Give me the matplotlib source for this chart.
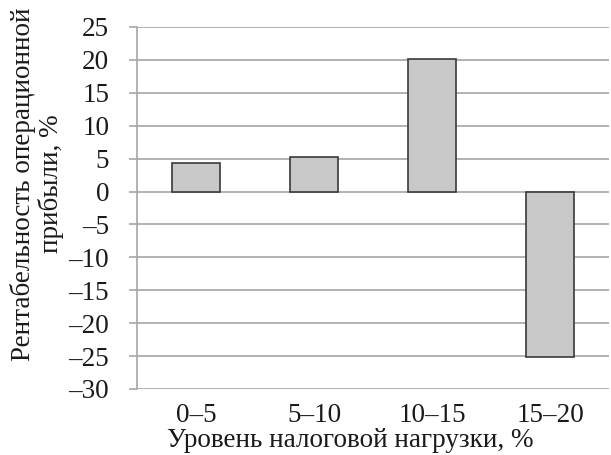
import matplotlib
matplotlib.use("Agg")
import matplotlib.pyplot as plt

categories = ["0–5", "5–10", "10–15", "15–20"]
values = [4.3, 5.2, 20.1, -25.2]
y_ticks = [25, 20, 15, 10, 5, 0, -5, -10, -15, -20, -25, -30]
y_tick_labels = [str(v).replace("-", "–") for v in y_ticks]
x_title = "Уровень налоговой нагрузки, %"
y_title = "Рентабельность операционной\nприбыли, %"

plt.rcParams["font.family"] = ["Liberation Serif", "DejaVu Serif"]

W, H = 611, 455
L, R, T, B = 137, 609, 27, 389
fig = plt.figure(figsize=(W / 100, H / 100), dpi=100)
ax = fig.add_axes([L / W, 1 - B / H, (R - L) / W, (B - T) / H])

grid_col = "#a6a6a6"
txt_col = "#1a1a1a"
fs = 19.5
ax.set_ylim(-30, 25)
ax.set_xlim(-0.5, len(categories) - 0.5)
ax.set_yticks(y_ticks)
ax.set_yticklabels(y_tick_labels)
ax.yaxis.grid(True, color=grid_col, linewidth=1.2)
ax.set_axisbelow(True)

ax.bar(range(len(categories)), values, width=0.4, color="#c8c8c8",
       edgecolor="#3a3a3a", linewidth=1.2, zorder=3)

ax.set_xticks(range(len(categories)))
ax.set_xticklabels(categories)

for s in ("top", "right", "bottom"):
    ax.spines[s].set_visible(False)
ax.spines["left"].set_color(grid_col)
ax.spines["left"].set_linewidth(1.2)

ax.tick_params(axis="y", length=6, width=1.2, color=grid_col, pad=14,
               labelsize=fs, labelcolor=txt_col)
ax.tick_params(axis="x", length=0, pad=10, labelsize=fs, labelcolor=txt_col)

ax.set_xlabel(x_title, fontsize=fs, color=txt_col)
ax.xaxis.label.set_va("baseline")
ax.xaxis.set_label_coords((350 - L) / (R - L), (B - 447) / (B - T))
ax.set_ylabel(y_title, fontsize=fs, color=txt_col, linespacing=1.1)
ax.yaxis.set_label_coords((64 - L) / (R - L), (B - 184) / (B - T))

fig.savefig("out.png", dpi=100)
